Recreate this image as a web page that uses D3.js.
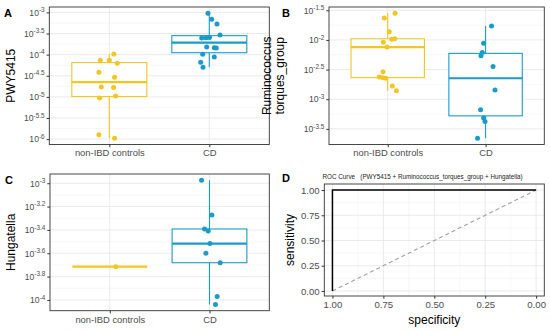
<!DOCTYPE html>
<html lang="en">
<head>
  <meta charset="UTF-8">
  <title>Boxplots and ROC</title>
  <script src="https://d3js.org/d3.v7.min.js"></script>
  <style>
    body { margin: 0; background: #fff; }
    svg { display: block; font-family: "Liberation Sans", Arial, Helvetica, sans-serif; }
    .tick text { fill: #4d4d4d; }
    .tick line { stroke: #333; }
  </style>
</head>
<body>
<script>
  // ---- data (log10 abundance) ----
  const groups = ['non-IBD controls', 'CD']

  const pwyCtrl = [-3.985, -4.134, -4.134, -4.205, -4.417, -4.536, -4.765, -4.78, -5.025, -4.98, -5.90, -5.98]
  const pwyCtrlJit = [0.046, -0.09, 0.0, 0.08, -0.104, 0.053, -0.08, 0.043, -0.097, 0.063, -0.104, 0.053]
  const pwyCD = [-3.02, -3.165, -3.276, -3.536, -3.607, -3.60, -3.595, -3.82, -3.836, -3.843, -3.992, -4.056, -4.181, -4.30]
  const pwyCDJit = [-0.013, 0.024, 0.077, 0.107, -0.076, -0.033, 0.002, -0.026, 0.05, 0.07, -0.066, 0.05, -0.086, -0.063]

  const rumCtrl = [-1.55, -1.63, -1.86, -2.04, -1.99, -1.98, -2.12, -2.537, -2.626, -2.636, -2.647, -2.777, -2.856]
  const rumCtrlJit = [0.075, -0.035, 0.016, -0.045, 0.041, 0.072, -0.007, -0.048, -0.086, -0.051, -0.02, 0.047, 0.088]
  const rumCD = [-1.764, -2.055, -2.213, -2.268, -2.448, -2.845, -3.176, -3.315, -3.377, -3.658]
  const rumCDJit = [0.061, -0.02, -0.034, -0.047, 0.076, 0.096, -0.051, -0.02, -0.006, -0.082]

  const hunCtrl = [-3.715]
  const hunCtrlJit = [0.06]
  const hunCD = [-2.974, -3.273, -3.392, -3.409, -3.517, -3.60, -3.681, -3.971, -4.039]
  const hunCDJit = [-0.08, 0.024, -0.05, -0.013, 0.004, -0.036, 0.107, 0.077, 0.06]

  const pwyTicks = [-3, -3.5, -4, -4.5, -5, -5.5, -6]
  const rumTicks = [-1.5, -2, -2.5, -3, -3.5]
  const hunTicks = [-3, -3.2, -3.4, -3.6, -3.8, -4]

  // ROC curve (specificity, sensitivity)
  const rocSpec = [1, 1, 0]
  const rocSens = [0, 1, 1]
  const rocTicks = [0, 0.25, 0.5, 0.75, 1]

  const colors = ['#f3c623', '#1a9bcb']

  const svg = d3.select('body').append('svg')
    .attr('width', 550)
    .attr('height', 331)

  function stats(v) {
    let s = v.slice().sort(d3.ascending)
    let q1 = d3.quantile(s, 0.25), med = d3.quantile(s, 0.5), q3 = d3.quantile(s, 0.75)
    let iqr = q3 - q1
    let lo = d3.min(s.filter(d => d >= q1 - 1.5 * iqr))
    let hi = d3.max(s.filter(d => d <= q3 + 1.5 * iqr))
    return { q1, med, q3, lo, hi }
  }

  function supLabel(sel) {
    // turn "-3.5" into 10^-3.5
    sel.each(function (d) {
      let t = d3.select(this)
      t.text('')
      t.append('tspan').text('10')
      t.append('tspan').attr('dy', -3.6).attr('font-size', 6.4).text(String(d).replace('-', '-'))
    })
  }

  function boxPanel(o) {
    let g = svg.append('g')
    let all = o.series.flatMap(s => s.values)
    let ext = d3.extent(all)
    let pad = (ext[1] - ext[0]) * 0.05
    let x = d3.scalePoint().domain(groups).range([o.left, o.right]).padding(0.6)
    let y = d3.scaleLinear().domain([ext[0] - pad, ext[1] + pad]).range([o.bottom, o.top])
    let unit = x.step()

    // grid
    let minor = o.ticks.slice(1).map((t, i) => (t + o.ticks[i]) / 2)
    g.selectAll('.minor').data(minor).join('line')
      .attr('x1', o.left).attr('x2', o.right)
      .attr('y1', d => y(d)).attr('y2', d => y(d))
      .attr('stroke', '#f2f2f2').attr('stroke-width', 0.6)
    g.selectAll('.major').data(o.ticks).join('line')
      .attr('x1', o.left).attr('x2', o.right)
      .attr('y1', d => y(d)).attr('y2', d => y(d))
      .attr('stroke', '#e8e8e8').attr('stroke-width', 0.9)
    g.selectAll('.vmajor').data(groups).join('line')
      .attr('x1', d => x(d)).attr('x2', d => x(d))
      .attr('y1', o.top).attr('y2', o.bottom)
      .attr('stroke', '#e8e8e8').attr('stroke-width', 0.9)

    // boxes
    o.series.forEach((s, i) => {
      let st = stats(s.values)
      let cx = x(groups[i]), hw = unit * 0.375
      let c = colors[i]
      g.append('line')
        .attr('x1', cx).attr('x2', cx)
        .attr('y1', y(st.hi)).attr('y2', y(st.lo))
        .attr('stroke', c).attr('stroke-width', 1.1)
      g.append('rect')
        .attr('x', cx - hw).attr('width', hw * 2)
        .attr('y', y(st.q3)).attr('height', Math.max(0, y(st.q1) - y(st.q3)))
        .attr('fill', '#fff').attr('stroke', c).attr('stroke-width', 1.1)
      g.append('line')
        .attr('x1', cx - hw).attr('x2', cx + hw)
        .attr('y1', y(st.med)).attr('y2', y(st.med))
        .attr('stroke', c).attr('stroke-width', 2.2)
    })
    // points
    o.series.forEach((s, i) => {
      g.selectAll(null).data(s.values).join('circle')
        .attr('cx', (d, j) => x(groups[i]) + s.jit[j] * unit)
        .attr('cy', d => y(d))
        .attr('r', 2.5)
        .attr('fill', colors[i])
    })

    // border
    g.append('rect')
      .attr('x', o.left).attr('y', o.top)
      .attr('width', o.right - o.left).attr('height', o.bottom - o.top)
      .attr('fill', 'none').attr('stroke', '#333').attr('stroke-width', 0.9)

    // axes
    let ya = g.append('g').attr('transform', `translate(${o.left},0)`)
      .call(d3.axisLeft(y).tickValues(o.ticks).tickSize(2.7).tickSizeOuter(0).tickPadding(2))
    ya.select('.domain').remove()
    ya.selectAll('text').attr('font-size', 8.6).call(supLabel)

    let xa = g.append('g').attr('transform', `translate(0,${o.bottom})`)
      .call(d3.axisBottom(x).tickSize(2.7).tickSizeOuter(0).tickPadding(2.5))
    xa.select('.domain').remove()
    xa.selectAll('text').attr('font-size', 9.4)

    // y title (one or two lines)
    o.title.forEach((line, k) => {
      svg.append('text')
        .attr('transform', `translate(${o.titleX + k * 12.5},${(o.top + o.bottom) / 2}) rotate(-90)`)
        .attr('text-anchor', 'middle')
        .attr('font-size', 12)
        .text(line)
    })
    svg.append('text')
      .attr('x', o.tagX).attr('y', o.tagY)
      .attr('font-size', 11).attr('font-weight', 'bold')
      .text(o.tag)
  }

  boxPanel({
    left: 49.3, right: 269.3, top: 7, bottom: 144.5,
    series: [{ values: pwyCtrl, jit: pwyCtrlJit }, { values: pwyCD, jit: pwyCDJit }],
    ticks: pwyTicks, title: ['PWY5415'], titleX: 15, tag: 'A', tagX: 4, tagY: 17
  })
  boxPanel({
    left: 329, right: 544.3, top: 7, bottom: 144.5,
    series: [{ values: rumCtrl, jit: rumCtrlJit }, { values: rumCD, jit: rumCDJit }],
    ticks: rumTicks, title: ['Ruminococcus', 'torques_group'], titleX: 271, tag: 'B', tagX: 282, tagY: 17
  })
  boxPanel({
    left: 50, right: 269.3, top: 174, bottom: 310.7,
    series: [{ values: hunCtrl, jit: hunCtrlJit }, { values: hunCD, jit: hunCDJit }],
    ticks: hunTicks, title: ['Hungatella'], titleX: 15, tag: 'C', tagX: 5, tagY: 184
  })

  // ---- ROC panel ----
  let d = { left: 324.3, right: 544.3, top: 184, bottom: 296 }
  let rx = d3.scaleLinear().domain([1.04, -0.04]).range([d.left, d.right])
  let ry = d3.scaleLinear().domain([-0.05, 1.06]).range([d.bottom, d.top])
  let gd = svg.append('g')
  let rocMinor = [0.125, 0.375, 0.625, 0.875]
  gd.selectAll('.mh').data(rocMinor).join('line')
    .attr('x1', d.left).attr('x2', d.right).attr('y1', v => ry(v)).attr('y2', v => ry(v))
    .attr('stroke', '#f2f2f2').attr('stroke-width', 0.6)
  gd.selectAll('.mv').data(rocMinor).join('line')
    .attr('y1', d.top).attr('y2', d.bottom).attr('x1', v => rx(v)).attr('x2', v => rx(v))
    .attr('stroke', '#f2f2f2').attr('stroke-width', 0.6)
  gd.selectAll('.gh').data(rocTicks).join('line')
    .attr('x1', d.left).attr('x2', d.right).attr('y1', v => ry(v)).attr('y2', v => ry(v))
    .attr('stroke', '#e8e8e8').attr('stroke-width', 0.9)
  gd.selectAll('.gv').data(rocTicks).join('line')
    .attr('y1', d.top).attr('y2', d.bottom).attr('x1', v => rx(v)).attr('x2', v => rx(v))
    .attr('stroke', '#e8e8e8').attr('stroke-width', 0.9)

  gd.append('line')
    .attr('x1', rx(1)).attr('y1', ry(0)).attr('x2', rx(0)).attr('y2', ry(1))
    .attr('stroke', '#a0a0a0').attr('stroke-width', 1.1).attr('stroke-dasharray', '4,3')
  gd.append('path')
    .datum(d3.zip(rocSpec, rocSens))
    .attr('d', d3.line().x(p => rx(p[0])).y(p => ry(p[1])))
    .attr('fill', 'none').attr('stroke', '#000').attr('stroke-width', 1.5)

  gd.append('rect')
    .attr('x', d.left).attr('y', d.top)
    .attr('width', d.right - d.left).attr('height', d.bottom - d.top)
    .attr('fill', 'none').attr('stroke', '#333').attr('stroke-width', 0.9)

  let dya = gd.append('g').attr('transform', `translate(${d.left},0)`)
    .call(d3.axisLeft(ry).tickValues(rocTicks).tickFormat(d3.format('.2f')).tickSize(2.7).tickSizeOuter(0).tickPadding(2))
  dya.select('.domain').remove()
  dya.selectAll('text').attr('font-size', 9.6)
  let dxa = gd.append('g').attr('transform', `translate(0,${d.bottom})`)
    .call(d3.axisBottom(rx).tickValues(rocTicks).tickFormat(d3.format('.2f')).tickSize(2.7).tickSizeOuter(0).tickPadding(2.5))
  dxa.select('.domain').remove()
  dxa.selectAll('text').attr('font-size', 9.6)

  svg.append('text')
    .attr('x', (d.left + d.right) / 2).attr('y', 324)
    .attr('text-anchor', 'middle').attr('font-size', 12)
    .text('specificity')
  svg.append('text')
    .attr('transform', `translate(294,${(d.top + d.bottom) / 2}) rotate(-90)`)
    .attr('text-anchor', 'middle').attr('font-size', 12)
    .text('sensitivity')
  svg.append('text')
    .attr('x', 322.5).attr('y', 178.5)
    .attr('font-size', 6.3).attr('fill', '#222')
    .style('white-space', 'pre')
    .text('ROC Curve   (PWY5415 + Ruminococcus_torques_group + Hungatella)')
  svg.append('text')
    .attr('x', 282).attr('y', 182)
    .attr('font-size', 11).attr('font-weight', 'bold')
    .text('D')
</script>
</body>
</html>
